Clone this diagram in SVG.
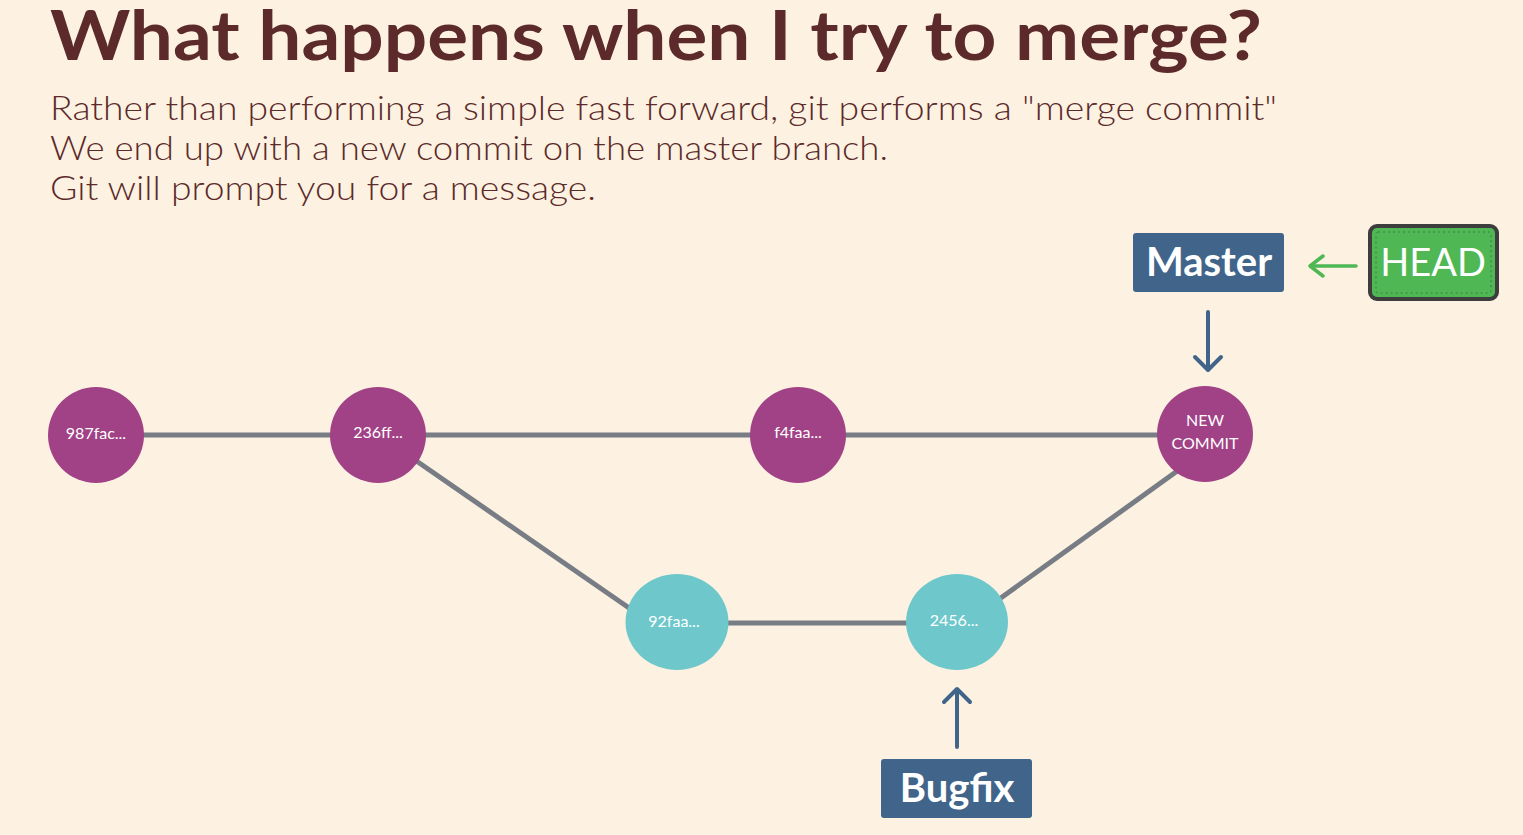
<svg xmlns="http://www.w3.org/2000/svg" width="1523" height="835" viewBox="0 0 1523 835">
<style>
.bg{fill:#fdf2e1}
.t{font-family:"Lato","Noto Sans",sans-serif;fill:#5c2a2a}
.edge{stroke:#787c85;stroke-width:5;fill:none}
.cm{fill:#a14186}
.br{fill:#6ec8cb}
.lbl{font-family:"Lato","Noto Sans",sans-serif;fill:#ffffff;font-size:16px;text-anchor:middle}
.box{fill:#41658a}
.btxt{font-family:"Lato","Noto Sans",sans-serif;fill:#ffffff;font-weight:bold;font-size:40px;text-anchor:middle}
.ptr{stroke:#41658a;stroke-width:4;fill:none;stroke-linecap:round;stroke-linejoin:round}
.gptr{stroke:#4fb855;stroke-width:3.5;fill:none;stroke-linecap:round;stroke-linejoin:round}
</style>
<rect class="bg" x="0" y="0" width="1523" height="835"/>
<text class="t" x="50" y="60" font-size="69" font-weight="bold" textLength="1212" lengthAdjust="spacingAndGlyphs">What happens when I try to merge?</text>
<text class="t" x="50" y="120" font-size="34" font-weight="300" textLength="1227" lengthAdjust="spacingAndGlyphs">Rather than performing a simple fast forward, git performs a "merge commit"</text>
<text class="t" x="50" y="160" font-size="34" font-weight="300" textLength="838" lengthAdjust="spacingAndGlyphs">We end up with a new commit on the master branch.</text>
<text class="t" x="50" y="200" font-size="34" font-weight="300" textLength="546" lengthAdjust="spacingAndGlyphs">Git will prompt you for a message.</text>
<g id="connectors">
<line class="edge" x1="140" y1="435" x2="335" y2="435"/>
<line class="edge" x1="420" y1="435" x2="755" y2="435"/>
<line class="edge" x1="840" y1="435" x2="1162" y2="435"/>
<line class="edge" x1="415" y1="460" x2="632" y2="610"/>
<line class="edge" x1="722" y1="623" x2="910" y2="623"/>
<line class="edge" x1="998" y1="600" x2="1180" y2="469"/>
<path class="ptr" d="M1208 312 V370 M1195 357 L1208 370 L1221 357"/>
<path class="ptr" d="M957 747 V689 M944 702 L957 689 L970 702"/>
<path class="gptr" d="M1356 266 H1310 M1323 256 L1310 266 L1323 276"/>
</g>
<g id="n987fac"><circle class="cm" cx="96" cy="435" r="48"/><text class="lbl" x="96" y="439">987fac...</text></g>
<g id="n236ff"><circle class="cm" cx="378" cy="435" r="48"/><text class="lbl" x="378" y="438">236ff...</text></g>
<g id="nf4faa"><circle class="cm" cx="798" cy="435" r="48"/><text class="lbl" x="798" y="438">f4faa...</text></g>
<g id="nnew"><circle class="cm" cx="1205" cy="434" r="48"/><text class="lbl" x="1205" y="426">NEW</text><text class="lbl" x="1205" y="449">COMMIT</text></g>
<g id="n92faa"><ellipse class="br" cx="677" cy="622" rx="51.5" ry="48"/><text class="lbl" x="674" y="627">92faa...</text></g>
<g id="n2456"><ellipse class="br" cx="957" cy="622" rx="51" ry="48"/><text class="lbl" x="954" y="626">2456...</text></g>
<g id="master"><rect class="box" x="1133" y="233" width="151" height="59" rx="3"/><text class="btxt" x="1209" y="276">Master</text></g>
<g id="head"><rect x="1370" y="226" width="127" height="73" rx="7" fill="#4fb855" stroke="#3d3d3d" stroke-width="4"/><rect x="1376" y="232" width="115" height="61" rx="2" fill="none" stroke="#3b7d40" stroke-width="1" stroke-dasharray="2 3"/><text x="1433" y="276" font-family="Lato,'Noto Sans',sans-serif" font-size="38" fill="#ffffff" text-anchor="middle">HEAD</text></g>
<g id="bugfix"><rect class="box" x="881" y="759" width="151" height="59" rx="3"/><text class="btxt" x="957" y="802">Bugfix</text></g>
</svg>
